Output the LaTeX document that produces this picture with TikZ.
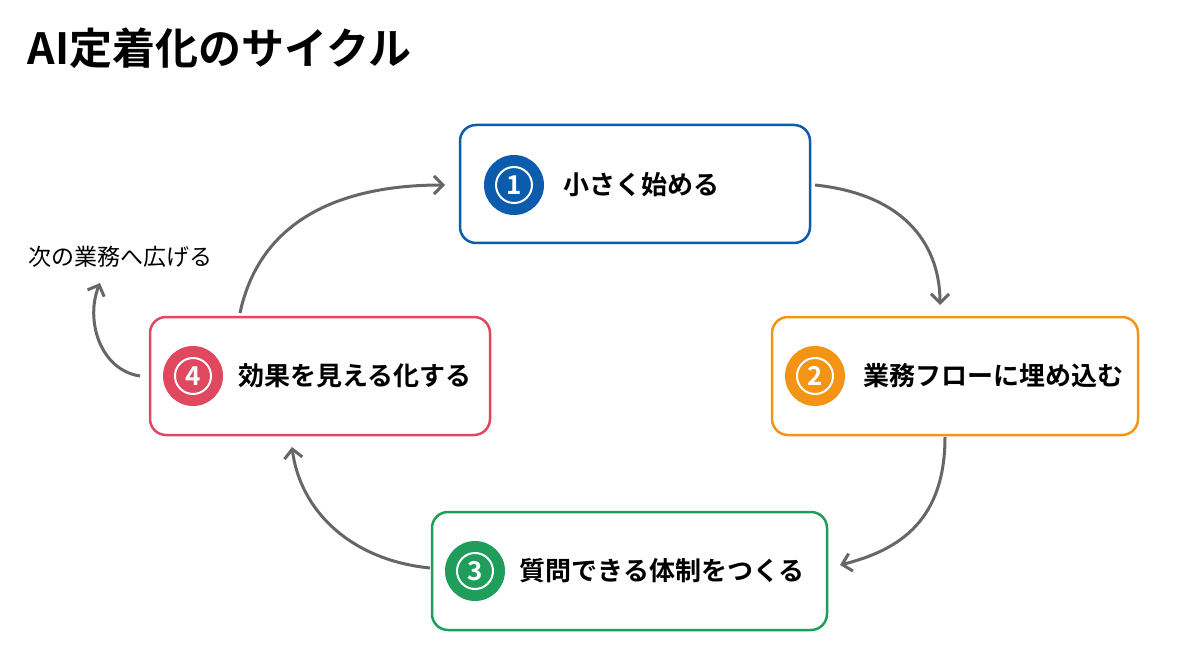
\documentclass[tikz,border=0pt]{standalone}
\usepackage{fontspec}
\setmainfont{Noto Sans CJK JP}
\newfontfamily\jpb{Noto Sans CJK JP Bold}
\usetikzlibrary{arrows.meta}
\definecolor{cb}{HTML}{0B5CAD}
\definecolor{co}{HTML}{F39415}
\definecolor{cg}{HTML}{1E9E5A}
\definecolor{cr}{HTML}{E0485F}
\definecolor{ca}{HTML}{666666}
\begin{document}
\begin{tikzpicture}[x=1pt,y=-1pt,
 box/.style={draw=#1,line width=2.5pt,rounded corners=16pt,fill=white},
 num/.style={circle,fill=#1,minimum size=60pt,inner sep=0pt},
 ring/.style={circle,draw=white,line width=2pt,minimum size=36pt,inner sep=0pt,text=white,font=\jpb\fontsize{26}{26}\selectfont},
 lab/.style={anchor=west,font=\jpb\fontsize{26}{30}\selectfont},
 arr/.style={draw=ca,line width=3pt,-{Straight Barb[length=9pt,width=18pt]}}]
\useasboundingbox (0,0) rectangle (1200,671);
\node[anchor=west,font=\jpb\fontsize{43}{47}\selectfont] (title) at (24,48) {AI定着化のサイクル};
\draw[box=cb] (460,125) rectangle (810,243);
\draw[box=co] (772,317) rectangle (1138,435);
\draw[box=cg] (432,512) rectangle (827,630);
\draw[box=cr] (150,317) rectangle (490,435);
\node[num=cb] (n1) at (514,185) {}; \node[ring] at (n1) {1};
\node[num=co] (n2) at (815,376) {}; \node[ring] at (n2) {2};
\node[num=cg] (n3) at (475,571) {}; \node[ring] at (n3) {3};
\node[num=cr] (n4) at (193,376) {}; \node[ring] at (n4) {4};
\node[lab] (t1) at (560,185) {小さく始める};
\node[lab] (t2) at (860,376) {業務フローに埋め込む};
\node[lab] (t3) at (516,571) {質問できる体制をつくる};
\node[lab] (t4) at (235,376) {効果を見える化する};
\node[anchor=west,font=\fontsize{23}{27}\selectfont] (side) at (25,257) {次の業務へ広げる};
\coordinate (a1) at (815,185); \coordinate (b1) at (940,305);
\coordinate (a2) at (945,437); \coordinate (b2) at (840,565);
\coordinate (a3) at (430,568); \coordinate (b3) at (292,447);
\coordinate (a4) at (240,313); \coordinate (b4) at (445,185);
\coordinate (a5) at (140,376); \coordinate (b5) at (100,283);
\draw[arr] (a1) .. controls (910,195) and (940,250) .. (b1);
\draw[arr] (a2) .. controls (945,520) and (900,550) .. (b2);
\draw[arr] (a3) .. controls (350,560) and (300,510) .. (b3);
\draw[arr] (a4) .. controls (260,220) and (340,185) .. (b4);
\draw[arr] (a5) .. controls (100,370) and (85,320) .. (b5);
\end{tikzpicture}
\end{document}
